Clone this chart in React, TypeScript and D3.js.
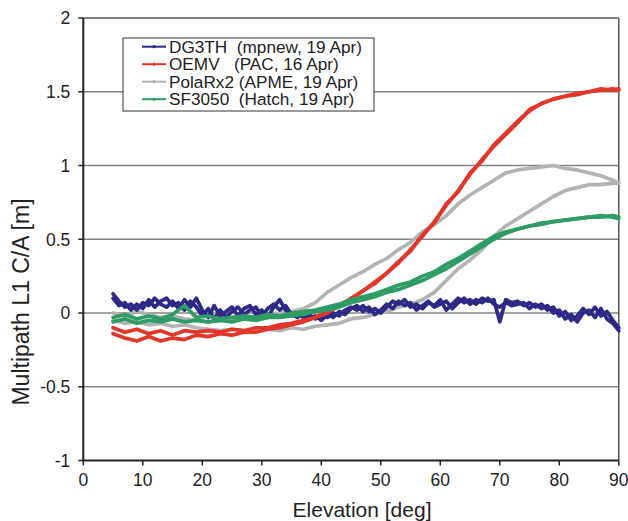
import React from 'react';
import * as d3 from 'd3';

// chart size and plot box
const W = 628, H = 521;
const margin = { top: 18, right: 9.2, bottom: 60.5, left: 83.3 };

const xTicks = [0, 10, 20, 30, 40, 50, 60, 70, 80, 90];
const yTicks = [-1, -0.5, 0, 0.5, 1, 1.5, 2];

// elevation samples
const elevFine = d3.range(5, 91);                    // 1 deg steps
const elevCoarse = d3.range(5, 90, 2).concat([90]);  // 2 deg steps

// DG3TH (mpnew, 19 Apr) - two passes, 1 deg
const dg3thA = [
  0.13, 0.08, 0.04, 0.06, 0.02, 0.07, 0.05, 0.10, 0.06, 0.04,
  0.08, 0.03, 0.09, 0.04, 0.10, 0.02, -0.03, 0.05, -0.02, 0.01,
  0.04, -0.02, 0.03, 0.05, -0.01, 0.02, -0.03, 0.04, 0.09, 0.02,
  -0.02, 0.00, -0.03, -0.01, -0.04, -0.02, -0.03, 0.00, -0.02, 0.02,
  0.04, 0.02, 0.05, 0.01, 0.03, 0.00, 0.04, 0.08, 0.06, 0.09,
  0.04, 0.06, 0.03, 0.07, 0.05, 0.09, 0.02, 0.06, 0.10, 0.07,
  0.09, 0.06, 0.10, 0.08, 0.09, -0.06, 0.09, 0.07, 0.08, 0.05,
  0.07, 0.04, 0.06, 0.02, 0.04, -0.02, 0.01, -0.05, -0.02, 0.03,
  -0.01, 0.04, -0.02, 0.01, -0.05, -0.10,
];
const dg3thB = [
  0.10, 0.05, 0.07, 0.02, 0.06, 0.03, 0.09, 0.04, 0.08, 0.10,
  0.05, 0.07, 0.02, 0.08, 0.04, -0.02, 0.03, -0.04, 0.02, -0.03,
  0.01, 0.04, -0.01, 0.02, 0.04, -0.02, 0.03, 0.06, 0.02, 0.05,
  -0.01, -0.03, 0.00, -0.04, -0.02, -0.05, -0.01, -0.03, 0.01, -0.01,
  0.03, 0.05, 0.01, 0.04, -0.01, 0.02, 0.06, 0.03, 0.08, 0.05,
  0.07, 0.02, 0.05, 0.08, 0.04, 0.06, 0.08, 0.03, 0.07, 0.10,
  0.06, 0.09, 0.07, 0.10, 0.06, 0.04, 0.07, 0.05, 0.06, 0.07,
  0.03, 0.06, 0.03, 0.05, 0.00, 0.02, -0.04, -0.01, -0.06, 0.00,
  0.02, -0.03, 0.03, -0.04, -0.07, -0.12,
];

// OEMV (PAC, 16 Apr) - 2 deg
const oemvA = [
  -0.10, -0.13, -0.11, -0.14, -0.12, -0.15, -0.12, -0.13, -0.12, -0.13, -0.11,
  -0.12, -0.10, -0.10, -0.08, -0.07, -0.05, -0.03, 0.01, 0.05, 0.10, 0.15,
  0.21, 0.27, 0.34, 0.43, 0.52, 0.62, 0.73, 0.83, 0.94, 1.04, 1.13,
  1.21, 1.29, 1.38, 1.42, 1.45, 1.47, 1.48, 1.50, 1.51, 1.52, 1.51,
];
const oemvB = [
  -0.14, -0.17, -0.19, -0.16, -0.19, -0.17, -0.18, -0.15, -0.16, -0.14, -0.15,
  -0.13, -0.13, -0.11, -0.10, -0.08, -0.06, -0.03, 0.00, 0.05, 0.09, 0.15,
  0.20, 0.27, 0.35, 0.42, 0.53, 0.61, 0.74, 0.82, 0.95, 1.03, 1.14,
  1.22, 1.30, 1.37, 1.42, 1.45, 1.47, 1.49, 1.50, 1.52, 1.51, 1.52,
];

// PolaRx2 (APME, 19 Apr)
const polaA = [
  0.00, -0.02, 0.01, -0.01, -0.03, -0.02, -0.04, -0.05, -0.06, -0.05, -0.04,
  -0.04, -0.02, -0.01, 0.00, 0.01, 0.03, 0.07, 0.14, 0.19, 0.24, 0.28,
  0.33, 0.37, 0.43, 0.48, 0.55, 0.60, 0.66, 0.74, 0.80, 0.85, 0.90,
  0.95, 0.97, 0.98, 0.99, 1.00, 0.98, 0.97, 0.95, 0.93, 0.90, 0.88,
];
const polaB = [
  -0.05, -0.07, -0.06, -0.08, -0.07, -0.09, -0.08, -0.10, -0.11, -0.12, -0.11,
  -0.12, -0.12, -0.11, -0.12, -0.10, -0.11, -0.09, -0.08, -0.07, -0.04, -0.03,
  -0.01, 0.01, 0.04, 0.06, 0.09, 0.14, 0.22, 0.30, 0.36, 0.43, 0.52,
  0.59, 0.64, 0.69, 0.74, 0.79, 0.83, 0.85, 0.87, 0.87, 0.88, 0.88,
];

// SF3050 (Hatch, 19 Apr)
const sfA = [
  -0.03, -0.01, -0.04, -0.02, -0.04, -0.01, 0.05, -0.03, -0.02, -0.04, -0.03,
  -0.02, -0.03, -0.01, -0.02, 0.00, 0.01, 0.02, 0.04, 0.06, 0.09, 0.11,
  0.13, 0.16, 0.19, 0.21, 0.25, 0.28, 0.33, 0.37, 0.42, 0.47, 0.52,
  0.55, 0.57, 0.59, 0.60, 0.62, 0.63, 0.64, 0.65, 0.66, 0.65, 0.64,
];
const sfB = [
  -0.06, -0.04, -0.07, -0.05, -0.06, -0.04, -0.06, -0.05, -0.06, -0.05, -0.06,
  -0.04, -0.05, -0.03, -0.03, -0.02, -0.01, 0.01, 0.02, 0.04, 0.07, 0.09,
  0.11, 0.14, 0.16, 0.19, 0.22, 0.26, 0.30, 0.35, 0.40, 0.45, 0.50,
  0.54, 0.57, 0.59, 0.61, 0.62, 0.63, 0.64, 0.65, 0.65, 0.66, 0.65,
];

const legendLabels = [
  'DG3TH  (mpnew, 19 Apr)',
  'OEMV   (PAC, 16 Apr)',
  'PolaRx2 (APME, 19 Apr)',
  'SF3050  (Hatch, 19 Apr)',
];
const colors = ['#2e2887', '#e2362a', '#b3b3b3', '#2f9c66'];

// drawing order: gray underneath
const traces = [
  { elev: elevCoarse, vals: polaA, c: 2 },
  { elev: elevCoarse, vals: polaB, c: 2 },
  { elev: elevFine, vals: dg3thA, c: 0 },
  { elev: elevFine, vals: dg3thB, c: 0 },
  { elev: elevCoarse, vals: oemvA, c: 1 },
  { elev: elevCoarse, vals: oemvB, c: 1 },
  { elev: elevCoarse, vals: sfA, c: 3 },
  { elev: elevCoarse, vals: sfB, c: 3 },
];

const font = '"Liberation Sans", Arial, Helvetica, sans-serif';

export default function App() {
  const x = d3.scaleLinear().domain([0, 90]).range([margin.left, W - margin.right]);
  const y = d3.scaleLinear().domain([-1, 2]).range([H - margin.bottom, margin.top]);
  const line = d3.line<[number, number]>().x(d => x(d[0])).y(d => y(d[1]));

  const x0 = x(0), x1 = x(90), yb = y(-1), yt = y(2);

  return (
    <svg width={W} height={H} style={{ position: 'absolute', left: 0, top: 0, background: '#fff' }}
      fontFamily={font}>
      {/* grid */}
      {yTicks.filter(t => t > -1 && t < 2).map(t => (
        <line key={t} x1={x0} x2={x1} y1={y(t)} y2={y(t)} stroke="#858585" strokeWidth={1.5} />
      ))}
      {/* frame top & right */}
      <line x1={x0} x2={x1} y1={yt} y2={yt} stroke="#555" strokeWidth={1.5} />
      <line x1={x1} x2={x1} y1={yt} y2={yb} stroke="#555" strokeWidth={1.5} />

      {/* data */}
      {traces.map((t, i) => (
        <path key={i} d={line(t.elev.map((e, k) => [e, t.vals[k]] as [number, number])) || ''}
          fill="none" stroke={colors[t.c]} strokeWidth={3.7} strokeLinejoin="round" strokeLinecap="round" />
      ))}

      {/* axes */}
      <line x1={x0} x2={x0} y1={yt} y2={yb} stroke="#222" strokeWidth={2} />
      <line x1={x0 - 1} x2={x1} y1={yb} y2={yb} stroke="#222" strokeWidth={2} />
      {yTicks.map(t => (
        <g key={t}>
          <line x1={x0 - 5} x2={x0} y1={y(t)} y2={y(t)} stroke="#222" strokeWidth={1.5} />
          <text x={x0 - 13} y={y(t)} dy="0.36em" textAnchor="end" fontSize={17.5} fill="#222">{t}</text>
        </g>
      ))}
      {xTicks.map(t => (
        <g key={t}>
          <line x1={x(t)} x2={x(t)} y1={yb} y2={yb + 5} stroke="#222" strokeWidth={1.5} />
          <text x={x(t)} y={yb + 25.5} textAnchor="middle" fontSize={17.5} fill="#222">{t}</text>
        </g>
      ))}
      <text x={362} y={517} textAnchor="middle" fontSize={21} fill="#222">Elevation [deg]</text>
      <text transform="translate(29,302) rotate(-90)" textAnchor="middle" fontSize={23} fill="#222">
        Multipath L1 C/A [m]
      </text>

      {/* legend */}
      <rect x={123} y={38} width={251} height={73} fill="#fff" stroke="#333" strokeWidth={1} />
      {legendLabels.map((lab, i) => {
        const ly = 46.7 + i * 17.5;
        return (
          <g key={lab}>
            <line x1={142} x2={166} y1={ly} y2={ly} stroke={colors[i]} strokeWidth={2} />
            <circle cx={154} cy={ly} r={1.6} fill={colors[i]} />
            <text x={169} y={ly + 6} fontSize={17.2} fill="#222" style={{ whiteSpace: 'pre' }}>{lab}</text>
          </g>
        );
      })}
    </svg>
  );
}
